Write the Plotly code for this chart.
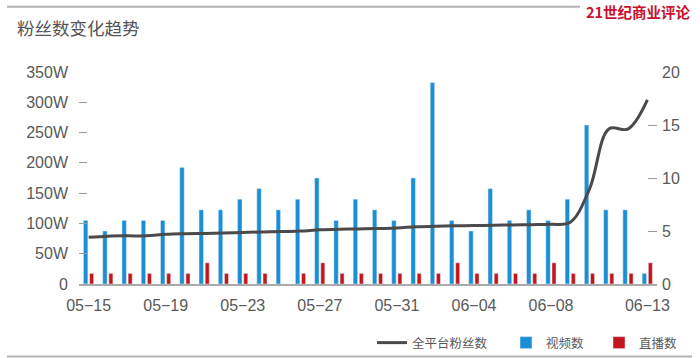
import plotly.graph_objects as go

dates = ["05-15", "05-16", "05-17", "05-18", "05-19", "05-20", "05-21", "05-22",
         "05-23", "05-24", "05-25", "05-26", "05-27", "05-28", "05-29", "05-30",
         "05-31", "06-01", "06-02", "06-03", "06-04", "06-05", "06-06", "06-07",
         "06-08", "06-09", "06-10", "06-11", "06-12", "06-13"]
videos = [6, 5, 6, 6, 6, 11, 7, 7, 8, 9, 7, 8, 10, 6, 8, 7, 6, 10, 19, 6,
          5, 9, 6, 7, 6, 8, 15, 7, 7, 1]
lives = [1, 1, 1, 1, 1, 1, 2, 1, 1, 1, 0, 1, 2, 1, 1, 1, 1, 1, 1, 2,
         1, 1, 1, 1, 2, 1, 1, 1, 1, 2]
fans_w = [77, 79, 79.5, 79.5, 82, 83, 83.5, 84, 85, 86, 86.5, 87.5, 89.5, 90.5, 91,
          91.5, 92.5, 94.5, 95.5, 96, 96.5, 97, 97.5, 98, 98.5, 102, 157, 256, 256, 304]
x_tick_dates = ["05-15", "05-19", "05-23", "05-27", "05-31", "06-04", "06-08", "06-13"]
x_tick_text = [d.replace("-", "\u2212") for d in x_tick_dates]
left_ticks = [0, 50, 100, 150, 200, 250, 300, 350]
left_tick_text = ["0", "50W", "100W", "150W", "200W", "250W", "300W", "350W"]
right_ticks = [0, 5, 10, 15, 20]

W, H = 700, 358
L, R, T, B = 79, 43, 72, 74
PW, PH = W - L - R, H - T - B


def px(x):
    return (x - L) / PW


def py(y):
    return (H - B - y) / PH


BLUE = "#1a8fd5"
RED = "#c3161c"
LINE = "#4a4a4a"
GRAY = "#595959"
CJK = "Noto Sans CJK SC"
LAT = "Liberation Sans, Arial, sans-serif"

fig = go.Figure()
fig.add_trace(go.Bar(x=dates, y=videos, name="视频数", marker_color=BLUE,
                     width=0.23, offset=-0.27, yaxis="y", legend="legend2"))
fig.add_trace(go.Bar(x=dates, y=lives, name="直播数", marker_color=RED,
                     width=0.21, offset=0.05, yaxis="y", legend="legend3"))
fig.add_trace(go.Scatter(x=dates, y=fans_w, name="全平台粉丝数", mode="lines",
                         line=dict(color=LINE, width=3, shape="spline", smoothing=1.0),
                         yaxis="y2", legend="legend"))


def leg(left_x):
    return dict(orientation="h", xref="container", yref="container",
                x=left_x / W, xanchor="left", y=1 - 343 / H, yanchor="middle",
                font=dict(family=CJK, size=12.5, color=GRAY), bgcolor="rgba(0,0,0,0)",
                itemwidth=30)


fig.update_layout(
    width=W, height=H,
    margin=dict(l=L, r=R, t=T, b=B, pad=0, autoexpand=False),
    paper_bgcolor="white", plot_bgcolor="white",
    barmode="overlay",
    showlegend=True,
    legend=leg(372), legend2=leg(506), legend3=leg(599),
    xaxis=dict(type="category", range=[-0.5, 29.5], tickvals=x_tick_dates, ticktext=x_tick_text,
               showgrid=False, showline=True, linecolor="#aaaaaa", linewidth=1.5,
               ticks="", ticklabelstandoff=6,
               tickfont=dict(family=LAT, size=16, color=GRAY), zeroline=False),
    yaxis=dict(side="right", range=[0, 20], tickvals=right_ticks, showgrid=False, zeroline=False,
               showline=False, ticks="inside", ticklen=9, tickwidth=1.2, tickcolor="#9a9a9a",
               ticklabelstandoff=4, tickfont=dict(family=LAT, size=16, color=GRAY)),
    yaxis2=dict(side="left", overlaying="y", range=[0, 350], tickvals=left_ticks,
                ticktext=left_tick_text, showgrid=False, zeroline=False, showline=False,
                ticks="inside", ticklen=8, tickwidth=1.2, tickcolor="#9a9a9a",
                ticklabelstandoff=10, tickfont=dict(family=LAT, size=16, color=GRAY)),
    shapes=[
        dict(type="line", xref="paper", yref="paper", x0=px(7), x1=px(580), y0=py(6.7), y1=py(6.7),
             line=dict(color="#b3b3b3", width=2)),
        dict(type="line", xref="paper", yref="paper", x0=px(7), x1=px(692), y0=py(356.5), y1=py(356.5),
             line=dict(color="#b3b3b3", width=2)),
    ],
    annotations=[
        dict(text="粉丝数变化趋势", xref="paper", yref="paper", x=px(15), y=py(27),
             xanchor="left", yanchor="middle", showarrow=False,
             font=dict(family=CJK, size=17.5, color="#555555")),
        dict(text="<b>21世纪商业评论</b>", xref="paper", yref="paper", x=px(693), y=py(11),
             xanchor="right", yanchor="middle", showarrow=False,
             font=dict(family=CJK, size=14.5, color="#c8102e")),
    ],
)

fig.write_html("out.html", config={"displayModeBar": False},
               post_script="document.body.style.margin='0px';document.body.style.overflow='hidden';")
